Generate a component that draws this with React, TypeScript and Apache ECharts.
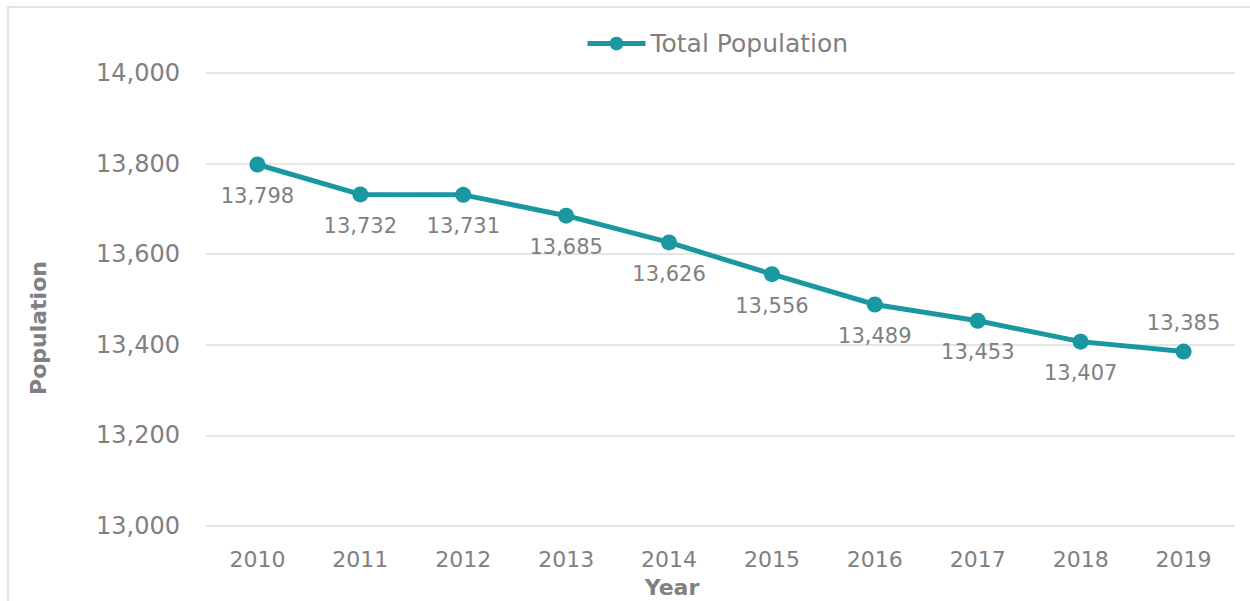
import React, { useEffect, useRef } from "react";
import * as echarts from "echarts";

const years = ["2010", "2011", "2012", "2013", "2014", "2015", "2016", "2017", "2018", "2019"];
const population = [13798, 13732, 13731, 13685, 13626, 13556, 13489, 13453, 13407, 13385];
const seriesName = "Total Population";
const yMin = 13000;
const yMax = 14000;
const yInterval = 200;

const FONT = "DejaVu Sans";
const GRAY = "#808080";
const TEAL = "#1a98a1";

export default function App() {
  const ref = useRef<HTMLDivElement>(null);
  useEffect(() => {
    if (!ref.current) return;
    const chart = echarts.init(ref.current, null, { renderer: "svg" });
    const fmt = (v: number) => v.toLocaleString("en-US");
    chart.setOption({
      animation: false,
      textStyle: { fontFamily: FONT },
      graphic: [
        {
          type: "rect",
          shape: { x: 8, y: 7, width: 1400, height: 800 },
          style: { fill: "none", stroke: "#d9d9d9", lineWidth: 1.5 },
          silent: true,
        },
        {
          type: "text",
          x: 38,
          y: 328,
          rotation: Math.PI / 2,
          style: {
            text: "Population",
            font: `bold 22px '${FONT}'`,
            fill: GRAY,
            align: "center",
            verticalAlign: "middle",
          },
        },
        {
          type: "text",
          x: 672,
          y: 587,
          style: {
            text: "Year",
            font: `bold 22px '${FONT}'`,
            fill: GRAY,
            align: "center",
            verticalAlign: "middle",
          },
        },
      ],
      legend: {
        top: 26,
        left: 580,
        itemWidth: 58,
        itemHeight: 17,
        itemGap: 2,
        lineStyle: { width: 5, color: TEAL },
        textStyle: { color: GRAY, fontSize: 25, fontFamily: FONT },
        data: [seriesName],
      },
      grid: { left: 206, right: 15, top: 73, bottom: 75, containLabel: false },
      xAxis: {
        type: "category",
        data: years,
        boundaryGap: true,
        axisLine: { show: false },
        axisTick: { show: false },
        axisLabel: { color: GRAY, fontSize: 22, margin: 22, fontFamily: FONT },
      },
      yAxis: {
        type: "value",
        min: yMin,
        max: yMax,
        interval: yInterval,
        axisLine: { show: false },
        axisTick: { show: false },
        splitLine: { lineStyle: { color: "#dcdcdc", width: 1.5 } },
        axisLabel: {
          color: GRAY,
          fontSize: 24,
          margin: 26,
          fontFamily: FONT,
          formatter: (v: number) => fmt(v),
        },
      },
      series: [
        {
          name: seriesName,
          type: "line",
          data: population.map((v, i) =>
            i === population.length - 1
              ? { value: v, label: { position: "top", distance: 10 } }
              : v
          ),
          symbol: "circle",
          symbolSize: 16,
          lineStyle: { color: TEAL, width: 5 },
          itemStyle: { color: TEAL },
          label: {
            show: true,
            position: "bottom",
            distance: 13,
            color: GRAY,
            fontSize: 21,
            fontFamily: FONT,
            formatter: (p: any) => fmt(p.value),
          },
        },
      ],
    });
    return () => chart.dispose();
  }, []);
  return (
    <div
      ref={ref}
      style={{ position: "absolute", left: 0, top: 0, width: 1250, height: 601 }}
    />
  );
}
